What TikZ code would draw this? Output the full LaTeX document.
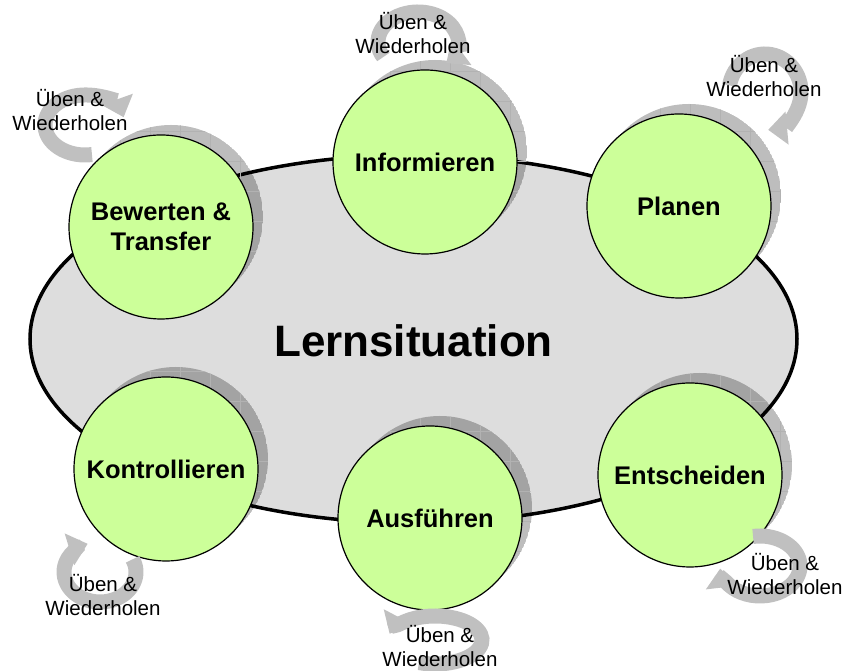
\documentclass[tikz,border=0pt]{standalone}
\usepackage{fontspec}
\setmainfont{Liberation Sans}
\usetikzlibrary{arrows.meta}
\definecolor{phasegreen}{HTML}{CCFF99}
\definecolor{sitgray}{HTML}{DDDDDD}
\definecolor{loopgray}{HTML}{C0C0C0}
\tikzset{phase/.style={circle, draw, line width=1.2pt, fill=phasegreen, minimum size=184pt, inner sep=0pt,
		align=center, font=\fontsize{25.5}{30}\selectfont\bfseries},
	loop arrow/.style={draw=loopgray, line width=15pt, -{Triangle[width=32pt,length=19pt]}},
	loop label/.style={align=center, inner sep=0pt, font=\fontsize{20.5}{24}\selectfont},
	shadowgrid/.style={draw=black!30, line width=0.3pt}}

\begin{document}
\begin{tikzpicture}[x=1pt, y=1pt]
		\useasboundingbox (0,0) rectangle (847,671);
		\draw[line width=3.5pt, fill=sitgray] (413.5,332) ellipse [x radius=383.5pt, y radius=184pt];
		\node[font=\fontsize{44}{50}\selectfont\bfseries] (lern) at (413.5,330) {Lernsituation};

		% shadows
		\foreach \x/\y in {425/509, 679/465, 161/444, 166/202, 430/153, 690/196}{
		  \begin{scope}
		    \clip (\x+10,\y+10) circle[radius=92pt];
		    \fill[black, fill opacity=0.26] (\x+10,\y+10) circle[radius=92pt];
		    \draw[shadowgrid] (\x-90,\y-90) grid[step=30pt] (\x+110,\y+110);
		  \end{scope}
		}

		\foreach \name/\x/\y/\txt in {info/425/509/Informieren, plan/679/465/Planen,
		   bew/161/444/{Bewerten \&\\Transfer}, kontr/166/202/Kontrollieren,
		   ausf/430/153/Ausführen, entsch/690/196/Entscheiden}
		  \node[phase] (\name) at (\x,\y) {\txt};

		\foreach \cx/\cy/\rx/\ry/\a/\b in {418/629/40/30/210/-45, 765/579/36/38/170/-85,
		   85/546/40/30/-80/-345, 100/99/36/30/25/-250, 435/31/47/24/-110/165, 760/105/40/30/100/-175}
		  \draw[loop arrow] ([shift={(\a:\rx pt and \ry pt)}]\cx,\cy)
		     arc[start angle=\a, end angle=\b, x radius=\rx pt, y radius=\ry pt];

		\foreach \name/\x/\y in {info/413/638, plan/764/595, bew/70/561, kontr/103/76, ausf/440/25, entsch/785/97}
		  \node[loop label] (\name rep) at (\x,\y) {Üben \&\\Wiederholen};
	\end{tikzpicture}
\end{document}
